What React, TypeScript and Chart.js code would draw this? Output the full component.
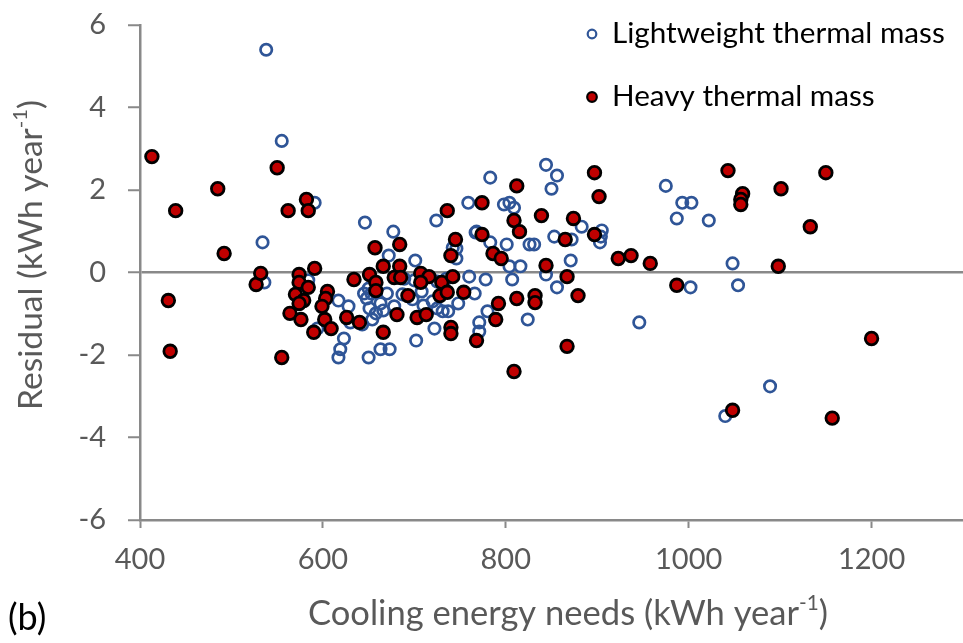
import React, { useEffect, useRef } from "react";
import { Chart, registerables } from "chart.js";

Chart.register(...registerables);

// ---- data ----
const seriesNames = ["Lightweight thermal mass", "Heavy thermal mass"];

const lightX = [
  538, 555, 591, 534, 536, 584, 617, 628, 594, 623, 619, 617, 646, 677, 672, 701, 700, 689,
  645, 650, 648, 653, 663, 670, 651, 658, 666, 654, 630, 643, 650, 663, 673, 678, 687, 702,
  708, 698, 710, 720, 725, 731, 737, 748, 766, 780, 771, 771, 722, 824, 746, 746, 767, 783,
  801, 826, 831, 804, 816, 760, 778, 807, 844, 844, 856, 783, 850, 759, 798, 804, 809, 724,
  883, 768, 905, 904, 903, 853, 872, 742, 871, 856, 975, 993, 1003, 987, 1022, 1048, 1002,
  1054, 946, 1089, 1040, 725, 735,
];
const lightY = [
  5.4, 3.19, 1.69, 0.73, -0.24, -0.19, -0.68, -0.82, -1.36, -1.6, -1.86, -2.06, 1.21, 0.99,
  0.41, 0.29, -0.19, -0.15, -0.51, -0.39, -0.63, -0.51, -0.75, -0.51, -0.87, -0.99, -0.92,
  -1.14, -1.21, -1.26, -2.06, -1.86, -1.86, -0.82, -0.53, -1.65, -0.46, -0.65, -0.8, -0.7,
  -0.87, -0.94, -0.94, -0.75, -0.51, -0.94, -1.21, -1.43, -1.36, -1.14, 0.34, 0.58, 0.97,
  0.73, 0.68, 0.68, 0.68, 0.15, 0.15, -0.1, -0.17, -0.17, -0.05, 2.61, 2.35, 2.3, 2.03, 1.69,
  1.65, 1.69, 1.57, 1.26, 1.11, 0.99, 1.02, 0.87, 0.73, 0.87, 0.8, 0.6, 0.29, -0.36, 2.1,
  1.69, 1.69, 1.31, 1.26, 0.22, -0.36, -0.31, -1.21, -2.76, -3.48, -0.22, -0.15,
];

const heavyX = [
  413, 439, 431, 433, 485, 492, 527, 532, 550, 555, 562, 582, 584, 574, 574, 591, 584, 570,
  579, 574, 564, 576, 605, 603, 599, 602, 609, 590, 626, 640, 634, 657, 666, 651, 658, 658,
  684, 678, 685, 684, 693, 681, 666, 703, 713, 707, 716, 707, 730, 742, 728, 736, 754, 740,
  740, 768, 745, 740, 736, 774, 774, 786, 795, 812, 809, 815, 839, 874, 865, 897, 897, 902,
  844, 867, 792, 812, 832, 832, 789, 879, 867, 809, 923, 937, 958, 987, 1043, 1059, 1057,
  1057, 1101, 1133, 1098, 1150, 1200, 1048, 1157,
];
const heavyY = [
  2.81, 1.5, -0.68, -1.91, 2.03, 0.46, -0.29, -0.02, 2.54, -2.06, 1.5, 1.77, 1.5, -0.05,
  -0.24, 0.1, -0.36, -0.53, -0.68, -0.75, -0.99, -1.14, -0.46, -0.63, -0.82, -1.14, -1.36,
  -1.45, -1.09, -1.21, -0.17, 0.6, 0.15, -0.05, -0.24, -0.44, 0.15, -0.12, -0.12, 0.68,
  -0.56, -1.02, -1.45, -1.09, -1.02, -0.02, -0.1, -0.24, -0.24, -0.1, -0.56, -0.48, -0.48,
  -1.33, -1.48, -1.65, 0.8, 0.41, 1.5, 1.69, 0.92, 0.46, 0.34, 2.1, 1.26, 0.99, 1.38, 1.31,
  0.8, 0.92, 2.42, 1.84, 0.17, -0.1, -0.75, -0.63, -0.56, -0.73, -1.14, -0.56, -1.79, -2.4,
  0.34, 0.41, 0.22, -0.31, 2.47, 1.91, 1.77, 1.65, 2.03, 1.11, 0.15, 2.42, -1.6, -3.34,
  -3.53,
];

const xTickValues = [400, 600, 800, 1000, 1200];
const xRange = [400, 1300];
const yRange = [-6, 6];
const yStep = 2;

const xTitleBase = "Cooling energy needs (kWh year";
const yTitleBase = "Residual (kWh year";
const titleSup = "-1";
const titleTail = ")";
const panelLabel = "(b)";

// ---- styles ----
const FONT = "Lato";
const GREY_TEXT = "#595959";
const AXIS = "#898989";
const BLUE = "#2F5597";
const RED = "#C00000";

function fitSize(ctx: CanvasRenderingContext2D, parts: [string, number][], target: number) {
  let w = 0;
  for (const [t, scale] of parts) {
    ctx.font = `${100 * scale}px ${FONT}`;
    w += ctx.measureText(t).width;
  }
  return (100 * target) / w;
}

function drawSupTitle(
  ctx: CanvasRenderingContext2D,
  cx: number,
  cy: number,
  base: string,
  sup: string,
  tail: string,
  targetWidth: number
) {
  const size = fitSize(ctx, [[base, 1], [sup, 0.6], [tail, 1]], targetWidth);
  ctx.font = `${size}px ${FONT}`;
  const wb = ctx.measureText(base).width;
  const wt = ctx.measureText(tail).width;
  ctx.font = `${size * 0.6}px ${FONT}`;
  const ws = ctx.measureText(sup).width;
  const total = wb + ws + wt;
  let x = cx - total / 2;
  ctx.textAlign = "left";
  ctx.textBaseline = "middle";
  ctx.font = `${size}px ${FONT}`;
  ctx.fillText(base, x, cy);
  x += wb;
  ctx.font = `${size * 0.6}px ${FONT}`;
  ctx.fillText(sup, x, cy - size * 0.3);
  x += ws;
  ctx.font = `${size}px ${FONT}`;
  ctx.fillText(tail, x, cy);
}

const overlayPlugin = {
  id: "overlay",
  afterDraw(chart: any) {
    const ctx: CanvasRenderingContext2D = chart.ctx;
    ctx.save();
    // axis titles
    ctx.fillStyle = GREY_TEXT;
    drawSupTitle(ctx, 568, 614, xTitleBase, titleSup, titleTail, 520);
    ctx.save();
    ctx.translate(31, 255);
    ctx.rotate(-Math.PI / 2);
    drawSupTitle(ctx, 0, 0, yTitleBase, titleSup, titleTail, 310);
    ctx.restore();

    // panel label
    ctx.fillStyle = "#000";
    ctx.font = `36px ${FONT}`;
    ctx.textAlign = "left";
    ctx.textBaseline = "alphabetic";
    ctx.fillText(panelLabel, 8, 630);

    // legend
    const legSize = fitSize(ctx, [[seriesNames[0], 1]], 333);
    ctx.font = `${legSize}px ${FONT}`;
    ctx.fillStyle = "#000";
    ctx.fillText(seriesNames[0], 612, 43);
    ctx.fillText(seriesNames[1], 612, 106);

    ctx.beginPath();
    ctx.arc(592, 34, 4.3, 0, Math.PI * 2);
    ctx.lineWidth = 2.2;
    ctx.strokeStyle = BLUE;
    ctx.stroke();

    ctx.beginPath();
    ctx.arc(592, 97, 4.8, 0, Math.PI * 2);
    ctx.fillStyle = RED;
    ctx.fill();
    ctx.lineWidth = 2.2;
    ctx.strokeStyle = "#000";
    ctx.stroke();
    ctx.restore();
  },
};

export default function App() {
  const ref = useRef<HTMLCanvasElement>(null);

  useEffect(() => {
    if (!ref.current) return;
    const chart = new Chart(ref.current, {
      type: "scatter",
      data: {
        datasets: [
          {
            label: seriesNames[0],
            data: lightX.map((x, i) => ({ x, y: lightY[i] })),
            pointStyle: "circle",
            pointRadius: 5.7,
            pointBackgroundColor: "rgba(0,0,0,0)",
            pointBorderColor: BLUE,
            pointBorderWidth: 2.7,
            order: 2,
          },
          {
            label: seriesNames[1],
            data: heavyX.map((x, i) => ({ x, y: heavyY[i] })),
            pointStyle: "circle",
            pointRadius: 6.3,
            pointBackgroundColor: RED,
            pointBorderColor: "#000",
            pointBorderWidth: 2.8,
            order: 1,
          },
        ],
      },
      plugins: [overlayPlugin],
      options: {
        responsive: false,
        animation: false,
        layout: { autoPadding: false, padding: { top: 25, right: 0, left: 0, bottom: 0 } },
        plugins: {
          legend: { display: false },
          tooltip: { enabled: false },
          title: { display: false },
        },
        scales: {
          x: {
            type: "linear",
            min: xRange[0],
            max: xRange[1],
            afterBuildTicks: (scale: any) => {
              scale.ticks = xTickValues.map((v) => ({ value: v }));
            },
            afterFit: (scale: any) => {
              scale.height = 123;
              scale.paddingLeft = 0;
              scale.paddingRight = 0;
            },
            ticks: {
              color: GREY_TEXT,
              font: { family: FONT, size: 29 },
              padding: 14,
              callback: (v: any) => String(v),
            },
            grid: {
              drawOnChartArea: false,
              drawTicks: true,
              tickLength: 8,
              tickColor: AXIS,
              tickWidth: 2,
            },
            border: { display: true, color: AXIS, width: 2.5 },
          },
          y: {
            type: "linear",
            min: yRange[0],
            max: yRange[1],
            ticks: {
              stepSize: yStep,
              color: GREY_TEXT,
              font: { family: FONT, size: 29 },
              padding: 22,
              callback: (v: any) => String(v),
            },
            afterFit: (scale: any) => {
              scale.width = 140;
              scale.paddingTop = 0;
              scale.paddingBottom = 0;
            },
            grid: {
              drawOnChartArea: true,
              drawTicks: true,
              tickLength: 12,
              tickColor: AXIS,
              tickWidth: 2,
              lineWidth: 2.5,
              color: (c: any) => (c.tick && c.tick.value === 0 ? AXIS : "rgba(0,0,0,0)"),
            },
            border: { display: true, color: AXIS, width: 2.5 },
          },
        },
      },
    } as any);
    return () => chart.destroy();
  }, []);

  return (
    <div style={{ position: "absolute", left: 0, top: 0, width: 963, height: 643, background: "#fff" }}>
      <canvas ref={ref} width={963} height={643} />
    </div>
  );
}
